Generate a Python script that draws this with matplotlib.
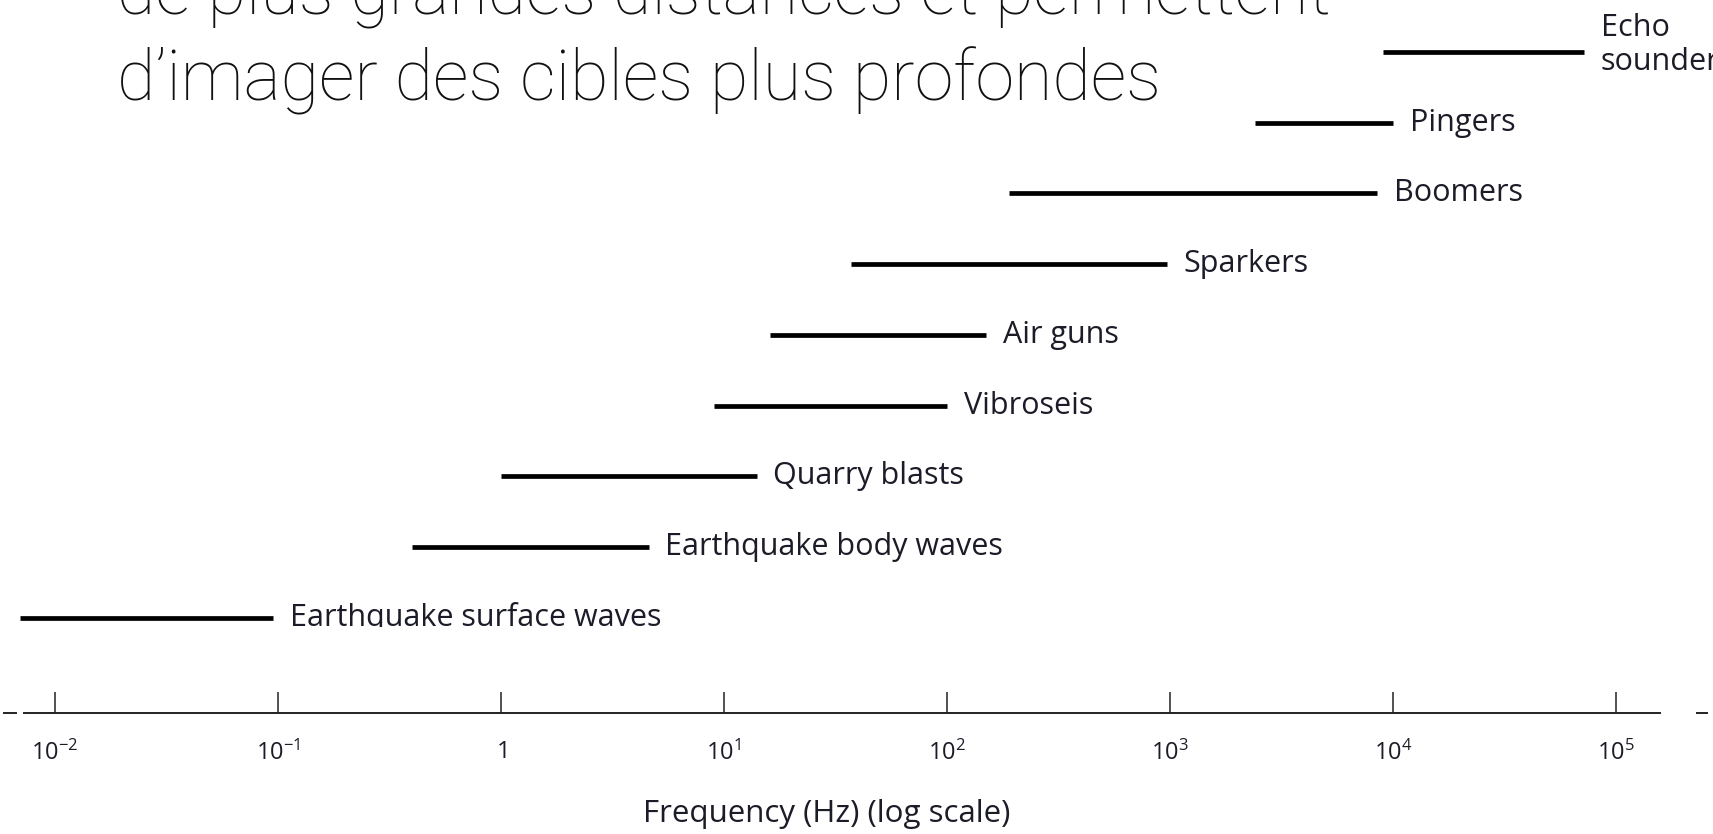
import matplotlib
matplotlib.use("Agg")
import matplotlib.pyplot as plt
from matplotlib.patches import Rectangle

# plages de fréquence des sources (Hz)
sources = ["Earthquake surface waves", "Earthquake body waves", "Quarry blasts",
           "Vibroseis", "Air guns", "Sparkers", "Boomers", "Pingers", "Echo\nsounder"]
f_min = [0.007, 0.4, 1, 9, 16, 37, 190, 2400, 9000]
f_max = [0.095, 4.6, 14, 100, 150, 970, 8500, 10000, 72000]

ticks = [1e-2, 1e-1, 1, 1e1, 1e2, 1e3, 1e4, 1e5]
tick_labels = [r"$10^{-2}$", r"$10^{-1}$", r"$1$", r"$10^{1}$", r"$10^{2}$",
               r"$10^{3}$", r"$10^{4}$", r"$10^{5}$"]

plt.rcParams["mathtext.fontset"] = "custom"
plt.rcParams["mathtext.rm"] = "Open Sans"
plt.rcParams["mathtext.it"] = "Open Sans"

W, H = 1713, 834
fig = plt.figure(figsize=(W / 100, H / 100), dpi=100)
ax = fig.add_axes([0, 1 - 713 / H, 1, 713 / H])
ax.set_xscale("log")
ax.set_xlim(10 ** -2.2466, 10 ** 5.435)
ax.set_ylim(-1.343, 8.735)

couleur_txt = "#1c1c28"
for i, (nom, a, b) in enumerate(zip(sources, f_min, f_max)):
    ax.plot([a, b], [i, i], color="black", lw=3.4, solid_capstyle="butt")
    if "\n" in nom:
        ax.annotate(nom, xy=(b, i), xytext=(12, 5), textcoords="offset points",
                    va="center", ha="left", fontsize=22, family="Open Sans",
                    color=couleur_txt, linespacing=1.15, annotation_clip=False)
    else:
        ax.annotate(nom, xy=(b, i), xytext=(12, 0), textcoords="offset points",
                    va="center", ha="left", fontsize=22, family="Open Sans",
                    color=couleur_txt)

# axe des fréquences
for s in ["top", "left", "right"]:
    ax.spines[s].set_visible(False)
ax.spines["bottom"].set_bounds(0.00726, 157400)
ax.spines["bottom"].set_linewidth(1.4)
ax.spines["bottom"].set_color("#222222")
ax.set_yticks([])
ax.set_xticks(ticks)
ax.set_xticklabels(tick_labels)
ax.xaxis.set_minor_locator(matplotlib.ticker.NullLocator())
ax.tick_params(axis="x", direction="in", length=15, width=1.1, color="#222222",
               pad=19, labelsize=17, labelcolor=couleur_txt)
# petits tirets aux extrémités de l'axe
ax.plot([10 ** -2.2287, 10 ** -2.175], [-1.343, -1.343], color="#222222", lw=1.4, clip_on=False)
ax.plot([10 ** 5.363, 10 ** 5.407], [-1.343, -1.343], color="#222222", lw=1.4, clip_on=False)

ax.set_xlabel("Frequency (Hz) (log scale)", fontsize=22.5, family="Open Sans",
              color=couleur_txt, va="center")
ax.xaxis.set_label_coords(827 / W, -101 / 713)

# texte de la diapositive
fig.text(117 / W, 1 - 14 / H, "de plus grandes distances et permettent",
         fontsize=50.5, family="Roboto", weight="light", color="#111111",
         ha="left", va="baseline")
fig.text(117 / W, 1 - 100.5 / H, "d\u2019imager des cibles plus profondes",
         fontsize=50.5, family="Roboto", weight="light", color="#111111",
         ha="left", va="baseline")

# bas du libellé masqué
fig.add_artist(Rectangle((270 / W, 1 - 690 / H), 430 / W, 63 / H,
                         transform=fig.transFigure, facecolor="white",
                         edgecolor="none", zorder=10))

fig.savefig("out.png", dpi=100)
